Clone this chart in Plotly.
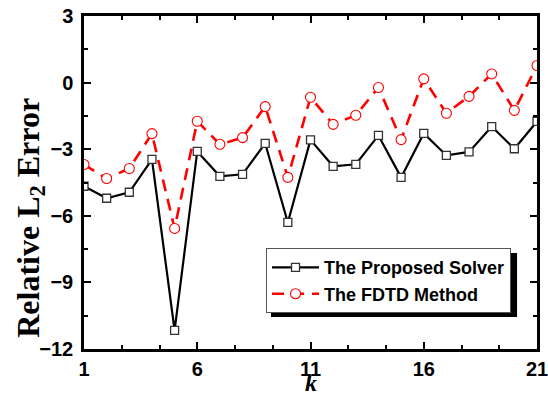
import plotly.graph_objects as go

# Relative L2 error (log scale exponent) versus mode index k
k = list(range(1, 22))
proposed_solver = [-4.67, -5.21, -4.94, -3.46, -11.16, -3.10, -4.22, -4.13, -2.74, -6.30,
                   -2.58, -3.77, -3.68, -2.38, -4.27, -2.29, -3.28, -3.12, -1.98, -2.98, -1.75]
fdtd_method = [-3.69, -4.32, -3.87, -2.30, -6.57, -1.74, -2.78, -2.48, -1.08, -4.27,
               -0.66, -1.88, -1.47, -0.22, -2.57, 0.17, -1.38, -0.62, 0.39, -1.25, 0.77]

x_ticks = [1, 6, 11, 16, 21]
y_ticks = [3, 0, -3, -6, -9, -12]

fig = go.Figure()

fig.add_trace(go.Scatter(
    x=k, y=proposed_solver, mode="lines+markers", name="The Proposed Solver",
    line=dict(color="black", width=2.2),
    marker=dict(symbol="square", size=8, color="white",
                line=dict(color="#333333", width=1.3)),
))
fig.add_trace(go.Scatter(
    x=k, y=fdtd_method, mode="lines+markers", name="The FDTD Method",
    line=dict(color="#ff0000", width=2.6, dash="12px,8px"),
    marker=dict(symbol="circle", size=10, color="white",
                line=dict(color="#ff0000", width=1.1)),
))

tick_font = dict(family="Liberation Sans", size=20, color="black", weight="bold")

fig.update_xaxes(
    range=[1, 21], tickvals=x_ticks, ticks="inside", ticklen=7, tickwidth=2,
    tickcolor="black", showline=True, linecolor="black", linewidth=2.5,
    mirror="allticks", showgrid=False, zeroline=False, tickfont=tick_font,
    automargin=False, ticklabeloverflow="allow", ticklabelstandoff=0,
    minor=dict(tick0=1, dtick=5 / 3, ticks="inside", ticklen=4, tickwidth=2,
               tickcolor="black", showgrid=False),
)
fig.update_yaxes(
    range=[-12, 3], tickvals=y_ticks, ticks="inside", ticklen=7, tickwidth=2,
    tickcolor="black", showline=True, linecolor="black", linewidth=2.5,
    mirror="allticks", showgrid=False, zeroline=False, tickfont=tick_font,
    automargin=False, ticklabeloverflow="allow", ticklabelstandoff=4,
    minor=dict(tick0=0, dtick=1.5, ticks="inside", ticklen=4, tickwidth=2,
               tickcolor="black", showgrid=False),
)

# axis titles
fig.add_annotation(
    text="<b>Relative L<sub>2</sub> Error</b>", textangle=-90,
    xref="paper", yref="paper", x=-0.12, y=0.393,
    xanchor="center", yanchor="middle", showarrow=False,
    font=dict(family="Liberation Serif", size=32, color="black"),
)
fig.add_annotation(
    text="<b><i>k</i></b>",
    xref="paper", yref="paper", x=0.5, y=-0.144,
    xanchor="center", yanchor="bottom", showarrow=False, borderpad=0,
    font=dict(family="Liberation Serif", size=24, color="black"),
)

# drop shadow behind the legend box
fig.add_shape(type="rect", xref="paper", yref="paper",
              x0=0.4128, x1=0.956, y0=0.096, y1=0.288,
              fillcolor="black", line=dict(width=0), layer="above")

fig.update_layout(
    width=548, height=397,
    margin=dict(l=84, r=11, t=16, b=48),
    plot_bgcolor="white", paper_bgcolor="white",
    legend=dict(x=0.4018, y=0.303, xanchor="left", yanchor="top",
                bgcolor="white", bordercolor="#555555", borderwidth=1,
                font=dict(family="Liberation Sans", size=18, color="black", weight="bold"),
                itemwidth=47, tracegroupgap=0),
    showlegend=True,
)

fig.write_html("out.html")
